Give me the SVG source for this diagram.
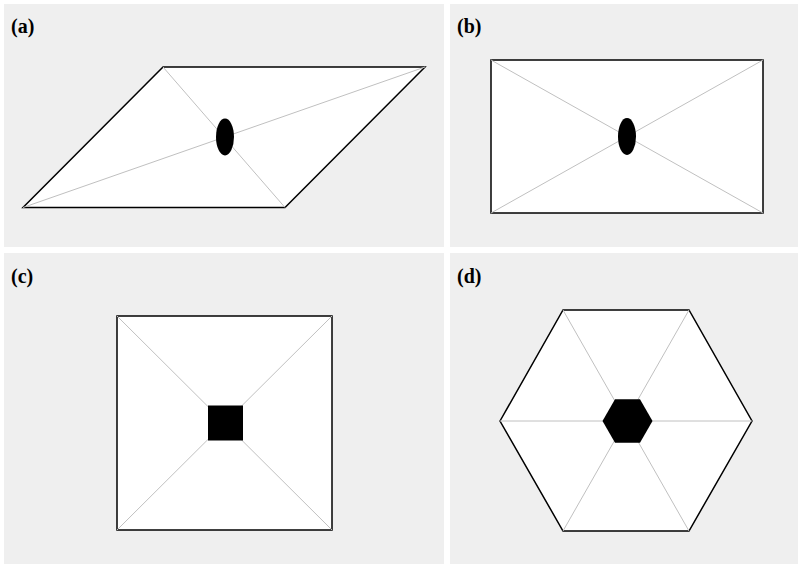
<svg xmlns="http://www.w3.org/2000/svg" width="798" height="564" viewBox="0 0 798 564">
<style>
.panel{fill:#efefef}
.shape{fill:#ffffff;stroke:#000000;stroke-width:1.5;stroke-linejoin:miter}
.diag{stroke:#c0c0c0;stroke-width:1;fill:none}
.hole{fill:#000000}
.lbl{font-family:"Liberation Serif",serif;font-weight:bold;font-size:20px;fill:#000000}
</style>
<rect x="0" y="0" width="798" height="564" fill="#ffffff"/>
<g id="panel-a">
<rect class="panel" x="4" y="4" width="440" height="243"/>
<text class="lbl" x="11" y="33">(a)</text>
<polygon class="shape" points="163,67 425,67 285,207.5 23,207.5"/>
<g class="diag"><line x1="163" y1="67" x2="285" y2="207.5"/><line x1="23" y1="207.5" x2="425" y2="67"/></g>
<ellipse class="hole" cx="225" cy="137" rx="9" ry="18.5"/>
</g>
<g id="panel-b">
<rect class="panel" x="450" y="4" width="348" height="243"/>
<text class="lbl" x="457" y="33">(b)</text>
<rect class="shape" x="491" y="60" width="272" height="153"/>
<g class="diag"><line x1="491" y1="60" x2="763" y2="213"/><line x1="491" y1="213" x2="763" y2="60"/></g>
<ellipse class="hole" cx="627" cy="136.5" rx="9" ry="18.5"/>
</g>
<g id="panel-c">
<rect class="panel" x="4" y="253" width="440" height="311"/>
<text class="lbl" x="11" y="283">(c)</text>
<rect class="shape" x="117" y="316" width="215" height="214"/>
<g class="diag"><line x1="117" y1="316" x2="332" y2="530"/><line x1="117" y1="530" x2="332" y2="316"/></g>
<rect class="hole" x="208" y="405.5" width="35" height="35"/>
</g>
<g id="panel-d">
<rect class="panel" x="450" y="253" width="348" height="311"/>
<text class="lbl" x="457" y="283">(d)</text>
<polygon class="shape" points="500,421 563,310 689,310 752,421 689,531 563,531"/>
<g class="diag"><line x1="500" y1="421" x2="752" y2="421"/><line x1="563" y1="310" x2="689" y2="531"/><line x1="689" y1="310" x2="563" y2="531"/></g>
<polygon class="hole" points="602.5,421 615,399.3 640,399.3 652.5,421 640,442.7 615,442.7"/>
</g>
</svg>
